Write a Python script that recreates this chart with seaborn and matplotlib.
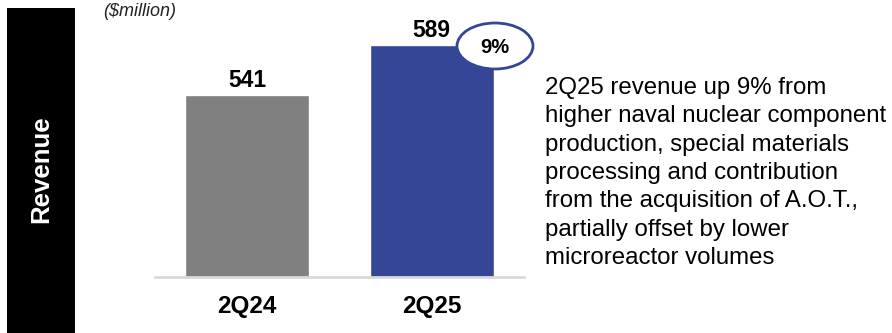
import matplotlib
matplotlib.use("Agg")
import matplotlib.pyplot as plt
import seaborn as sns
import pandas as pd
from matplotlib.patches import Ellipse, Rectangle

categories = ["2Q24", "2Q25"]
revenue = [541, 589]
bar_colors = ["#808080", "#344695"]
growth_label = "9%"
unit_label = "($million)"
side_title = "Revenue"
comment = ("2Q25 revenue up 9% from\nhigher naval nuclear component\n"
           "production, special materials\nprocessing and contribution\n"
           "from the acquisition of A.O.T.,\npartially offset by lower\n"
           "microreactor volumes")

sns.set_theme(style="white")
plt.rcParams["font.family"] = ["Liberation Sans", "DejaVu Sans"]
plt.rcParams["text.color"] = "black"
plt.rcParams["xtick.color"] = "black"

W, H = 892, 333
fig = plt.figure(figsize=(W / 100, H / 100), dpi=100)

# black side panel
fig.patches.append(Rectangle((7 / W, 0), 68 / W, (H - 8) / H, transform=fig.transFigure,
                             facecolor="black", edgecolor="none", zorder=0))
fig.text(41 / W, 1 - 169 / H, side_title, rotation=90, color="white", fontsize=18.5,
         fontweight="bold", ha="center", va="center")
fig.text(103 / W, 1 - 12 / H, unit_label, fontsize=13, fontstyle="italic",
         ha="left", va="center", color="#222222")

# bar axes
ax_left, ax_right = 155, 524
ax_bottom, ax_top = 277, 20
ax = fig.add_axes([ax_left / W, (H - ax_bottom) / H, (ax_right - ax_left) / W,
                   (ax_bottom - ax_top) / H])
df = pd.DataFrame({"cat": categories, "val": revenue})
sns.barplot(data=df, x="cat", y="val", hue="cat", palette=bar_colors, legend=False,
            width=0.67, ax=ax, saturation=1)
base = 366.2
scale = 232 / (589 - base)  # px per unit
ax.set_ylim(base, base + (ax_bottom - ax_top) / scale)
ax.set_xlim(-0.5, 1.5)
for s in ["left", "right", "top"]:
    ax.spines[s].set_visible(False)
ax.spines["bottom"].set_color("#d9d9d9")
ax.spines["bottom"].set_linewidth(2)
ax.set_yticks([])
ax.set_xlabel("")
ax.set_ylabel("")
ax.set_xticks(range(len(categories)))
ax.set_xticklabels(categories, fontsize=17.5, fontweight="bold", color="black")
ax.tick_params(axis="x", length=0, pad=13)
ax.patch.set_alpha(0)

for i, v in enumerate(revenue):
    ax.annotate(str(v), (i, v), xytext=(0, 2), textcoords="offset points",
                ha="center", va="bottom", fontsize=16.5, fontweight="bold", color="black")

# growth ellipse
ell_x, ell_y = 495, 46
ex = (ell_x - ax_left) / (ax_right - ax_left)
ey = (ax_bottom - ell_y) / (ax_bottom - ax_top)
ax.add_patch(Ellipse((ex, ey), 76 / (ax_right - ax_left), 46 / (ax_bottom - ax_top),
                     transform=ax.transAxes, facecolor="white", edgecolor="#344695",
                     linewidth=2, zorder=5, clip_on=False))
ax.text(ex, ey - 0.005, growth_label, transform=ax.transAxes, ha="center", va="center",
        fontsize=14.5, fontweight="bold", zorder=6, color="black")

fig.text(545 / W, 1 - 173 / H, comment, fontsize=17.3, ha="left", va="center",
         linespacing=1.37, color="black")

fig.savefig("out.png", dpi=100)
